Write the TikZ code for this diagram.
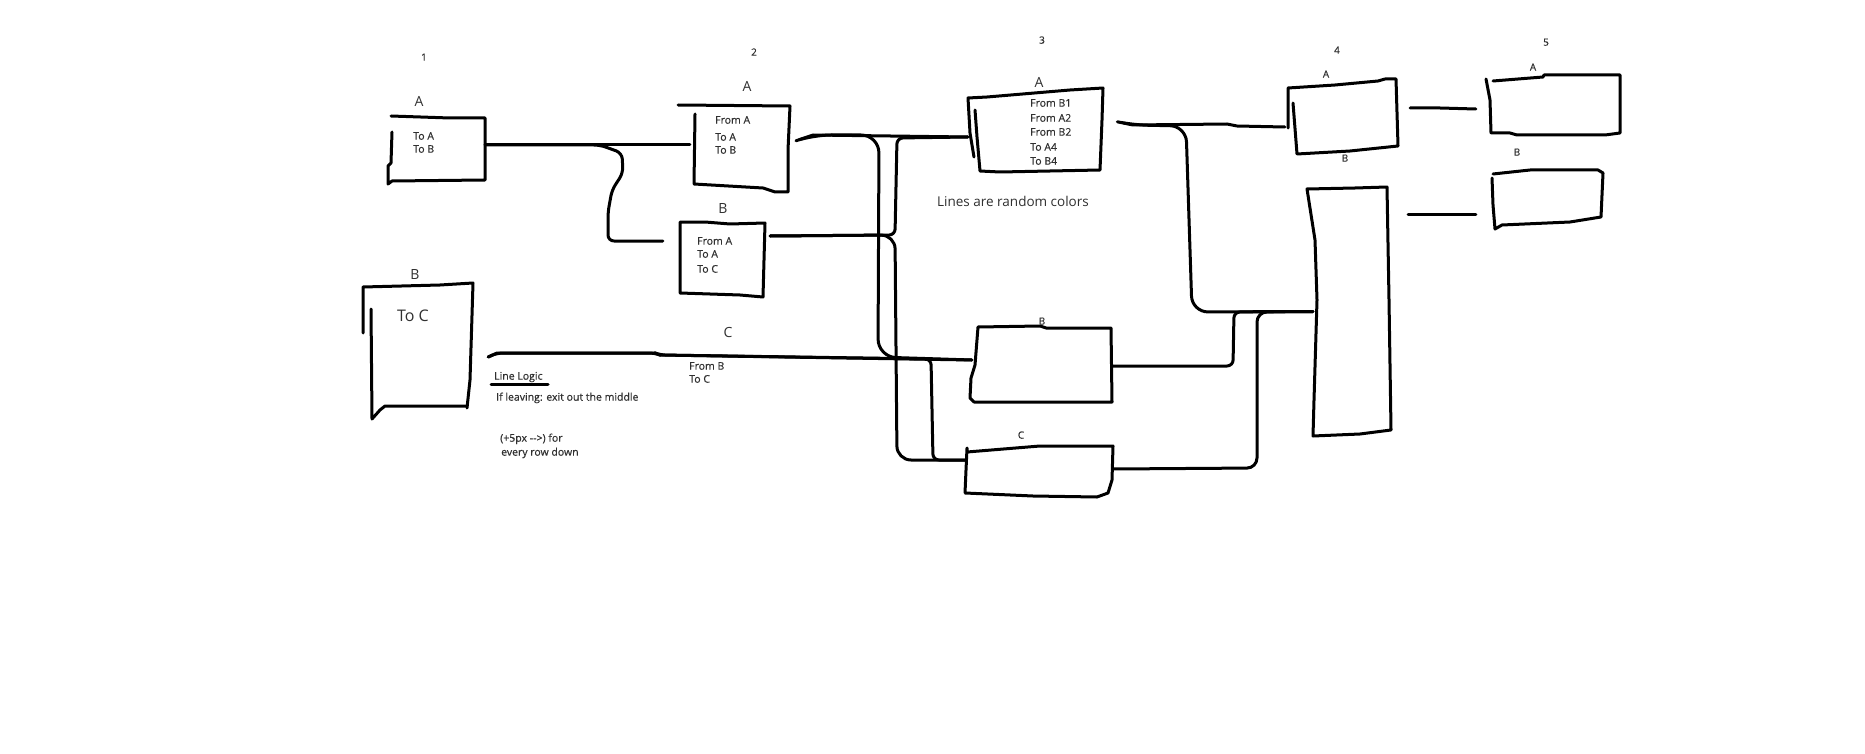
\documentclass[tikz,border=0pt]{standalone}
\usepackage{fontspec}
\setmainfont{Open Sans}
\usetikzlibrary{fit}
\definecolor{ink}{HTML}{000000}
\definecolor{txt}{HTML}{303030}
\begin{document}
\begin{tikzpicture}[x=1pt,y=-1pt,
  pen/.style={line width=3pt, line join=round, line cap=round, draw=ink},
  wire/.style={pen, rounded corners=6pt},
  slot/.style={inner sep=0pt, draw=none},
  lbl/.style={text=txt, inner sep=0pt, anchor=mid},
  head/.style={lbl, yshift=-2pt, font=\fontsize{14}{16}\selectfont},
  tag/.style={lbl, yshift=-1pt, font=\fontsize{10}{12}\selectfont\addfontfeature{FakeBold=0.4}},
  row/.style={text=txt, inner sep=0pt, anchor=mid west, yshift=-1pt, font=\fontsize{10.5}{12}\selectfont\addfontfeature{FakeBold=0.5}},
]
\useasboundingbox (0,0) rectangle (1865,754);
\fill[white] (0,0) rectangle (1865,754);

% ---------- regions used as connector ends ----------
\node[slot, fit={(389,117)(485,181)}] (a1) {};
\node[slot, fit={(363,285)(473,408)}] (b1) {};
\node[slot, fit={(695,105)(790,188)}] (a2) {};
\node[slot, fit={(680,222)(765,296)}] (b2) {};
\node[slot, fit={(968,88)(1103,172)}] (a3) {};
\node[slot, fit={(972,326)(1112,403)}] (b3) {};
\node[slot, fit={(966,446)(1113,496)}] (c3) {};
\node[slot, fit={(1288,79)(1398,154)}] (a4) {};
\node[slot, fit={(1308,187)(1391,436)}] (b4) {};
\node[slot, fit={(1486,75)(1620,135)}] (a5) {};
\node[slot, fit={(1492,170)(1604,229)}] (b5) {};

% ---------- hand drawn outlines ----------
% column 1
\draw[pen] (391,116) -- (450,118) -- (485,118) -- (485,180) -- (392,181) -- (388,184) -- (388,166) -- (391,163) -- (392,132);
\draw[pen] (363,333) -- (363,287) -- (440,285) -- (473,283) -- (470,380) -- (467,408);
\draw[pen] (467,406) -- (385,406) -- (380,410) -- (372,419) -- (371,309);
% column 2
\draw[pen] (678,105) -- (790,106) -- (788,150) -- (788,192) -- (775,192) -- (763,188) -- (694,184) -- (695,114);
\draw[pen] (680,293) -- (680,222) -- (705,222) -- (730,224) -- (765,223) -- (763,297) -- (740,295) -- cycle;
% column 3
\draw[pen] (974,157) -- (970,133) -- (968,98) -- (987,97) -- (1070,90) -- (1103,88) -- (1102,120) -- (1100,170) -- (1000,172) -- (980,171) -- (977,137) -- (975,110);
\draw[pen] (978,327) -- (1040,326) -- (1046,328) -- (1111,328) -- (1112,402) -- (974,402) -- (970,398) -- (971,378) -- (975,365) -- cycle;
\draw[pen] (967,448) -- (967,452) -- (1040,446) -- (1113,446) -- (1112,480) -- (1108,493) -- (1097,497) -- (1033,496) -- (965,493) -- (966,470) -- cycle;
% column 4
\draw[pen] (1288,128) -- (1288,88) -- (1335,85) -- (1378,81) -- (1385,79) -- (1396,79) -- (1398,146) -- (1350,151) -- (1297,154) -- (1293,103);
\draw[pen] (1307,189) -- (1355,188) -- (1387,187) -- (1389,300) -- (1391,430) -- (1360,434) -- (1313,436) -- (1314,400) -- (1317,300) -- (1315,240) -- cycle;
% column 5
\draw[pen] (1493,81) -- (1543,77) -- (1544,75) -- (1620,75) -- (1620,133) -- (1605,135) -- (1517,135) -- (1510,133) -- (1491,133) -- (1490,100) -- (1486,79);
\draw[pen] (1493,174) -- (1530,170) -- (1598,170) -- (1603,173) -- (1601,217) -- (1570,222) -- (1502,225) -- (1495,229) -- (1493,205) -- (1492,178);

% ---------- connectors ----------
% column 1 -> column 2
\draw[pen] ([yshift=4pt]a1.east) -- ([xshift=-5pt,yshift=1.5pt]a2.west);
\draw[wire] ([yshift=4pt]a1.east) -- (600,145) -- (622,153) -- (623,173) -- (612,190) -- (608,212) -- (608,241) -- ([xshift=-17pt,yshift=18pt]b2.west);
\draw[pen] ([xshift=15pt,yshift=-10.5pt]b1.east) -- (497,353) -- (655,353) -- (660,355) -- ([yshift=4.5pt]b3.west);
\draw[wire] ([xshift=15pt,yshift=-10.5pt]b1.east) -- (497,353) -- (655,353) -- (660,355) -- (931,359) -- (933,460) -- ([yshift=11pt]c3.west);
% column 2 -> column 3
\draw[pen] ([xshift=11pt,yshift=7.5pt]a2.east) -- (813,135) -- ([yshift=-7pt]a3.west);
\draw[wire, rounded corners=18pt] ([xshift=11pt,yshift=7.5pt]a2.east) -- (813,135) -- (879,135) -- (878,357) -- ([yshift=4.5pt]b3.west);
\draw[wire] ([xshift=5pt,yshift=23pt]b2.east) -- (895,235) -- (897,138) -- ([yshift=-7pt]a3.west);
\draw[wire, rounded corners=14pt] ([xshift=5pt,yshift=23pt]b2.east) -- (895,235) -- (897,460) -- ([yshift=11pt]c3.west);
% column 3 -> column 4
\draw[pen] ([xshift=20pt,yshift=7pt]a3.east) -- (1133,125) -- (1227,124) -- (1237,126) -- ([xshift=-3pt,yshift=-10.5pt]a4.west);
\draw[wire, rounded corners=16pt] ([xshift=20pt,yshift=7pt]a3.east) -- (1133,125) -- (1186,126) -- (1192,312) -- ([xshift=5pt]b4.west);
\draw[wire] ([yshift=-1.5pt]b3.east) -- (1233,366) -- (1234,312) -- ([xshift=5pt]b4.west);
\draw[wire, rounded corners=10pt] ([yshift=2pt]c3.east) -- (1257,468) -- (1257,312) -- ([xshift=5pt]b4.west);
% column 4 -> column 5
\draw[pen] ([xshift=12pt,yshift=8.5pt]a4.east) -- (1440,108) -- ([xshift=-10pt,yshift=-4pt]a5.west);
\draw[pen] ([xshift=17pt,yshift=97.5pt]b4.east) -- ([xshift=-16pt,yshift=-14.5pt]b5.west);

% ---------- column numbers ----------
\node[tag] (n1) at (424,57) {1};
\node[tag] (n2) at (754,52) {2};
\node[tag] (n3) at (1042,40) {3};
\node[tag] (n4) at (1337,50) {4};
\node[tag] (n5) at (1546,42) {5};

% ---------- box titles ----------
\node[head] (ta1) at (419,102) {A};
\node[head] (tb1) at (415,275) {B};
\node[head] (ta2) at (747,87) {A};
\node[head] (tb2) at (723,209) {B};
\node[head] (tc2) at (728,333) {C};
\node[head] (ta3) at (1039,83) {A};
\node[tag] (tb3) at (1042,321) {B};
\node[tag] (tc3) at (1021,435) {C};
\node[tag] (ta4) at (1326,74) {A};
\node[tag] (tb4) at (1345,158) {B};
\node[tag] (ta5) at (1533,67) {A};
\node[tag] (tb5) at (1517,152) {B};

% ---------- box contents ----------
\node[row] (a1r1) at (413,136) {To A};
\node[row] (a1r2) at (413,149) {To B};
\node[lbl, yshift=-2pt, font=\fontsize{16}{18}\selectfont] (b1r1) at (413,317) {To C};
\node[row] (a2r1) at (715,120) {From A};
\node[row] (a2r2) at (715,137) {To A};
\node[row] (a2r3) at (715,150) {To B};
\node[row] (b2r1) at (697,241) {From A};
\node[row] (b2r2) at (697,254) {To A};
\node[row] (b2r3) at (697,269) {To C};
\node[row] (c2r1) at (689,366) {From B};
\node[row] (c2r2) at (689,379) {To C};
\node[row] (a3r1) at (1030,103) {From B1};
\node[row] (a3r2) at (1030,118) {From A2};
\node[row] (a3r3) at (1030,132) {From B2};
\node[row] (a3r4) at (1030,147) {To A4};
\node[row] (a3r5) at (1030,161) {To B4};

% ---------- notes ----------
\node[lbl, yshift=-1pt, font=\fontsize{13.5}{16}\selectfont] (note) at (1013,203) {Lines are random colors};
\node[row] (logic) at (494,376) {Line Logic};
\draw[pen] (491,384) -- (548,384);
\node[row] (rule1) at (496,397) {If leaving: exit out the middle};
\node[row] (rule2) at (500,438) {(+5px -{}->) for};
\node[row] (rule3) at (501,452) {every row down};
\end{tikzpicture}
\end{document}
